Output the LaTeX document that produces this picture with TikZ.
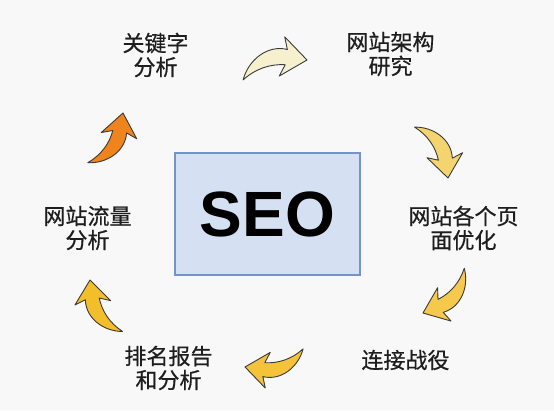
\documentclass[tikz,border=0pt]{standalone}
\usepackage{fontspec}
\setmainfont{Liberation Sans}
\newfontfamily\cjk[FakeBold=0.6]{Noto Sans CJK SC}
\usetikzlibrary{positioning}
\definecolor{pagebg}{HTML}{F8F8F8}
\definecolor{boxfill}{HTML}{D5E0F2}
\definecolor{boxline}{HTML}{7393C9}
\definecolor{textgray}{HTML}{1E1E1E}
\definecolor{arrowline}{HTML}{3A3A3A}
\definecolor{orangeA}{HTML}{F0841C}
\definecolor{creamA}{HTML}{F6F0CF}
\definecolor{yellowA}{HTML}{F3D46E}
\definecolor{yellowB}{HTML}{F5C94C}
\definecolor{yellowC}{HTML}{F4C338}
\definecolor{yellowD}{HTML}{F2BE2A}
\tikzset{
  seobox/.style={draw=boxline, line width=1.2pt, fill=boxfill,
    minimum width=185pt, minimum height=122pt,
    font=\bfseries\fontsize{64}{64}\selectfont},
  stepnode/.style={on grid, align=center, inner sep=0pt, text=textgray,
    font=\cjk\fontsize{22}{24}\selectfont},
  bendarrow/.pic={
    \draw[arrowline, line width=0.9pt, line join=round, fill=#1]
      (0,0) -- (-23,18) -- (-19,7)
      .. controls (-38,9) and (-53,-8) .. (-55,-26)
      .. controls (-45,-14) and (-32,-8) .. (-19,-7)
      -- (-23,-18) -- cycle;
  },
}

\begin{document}
\begin{tikzpicture}[x=1pt, y=1pt]
  \fill[pagebg] (0,0) rectangle (554,410);
  \useasboundingbox (0,0) rectangle (554,410);

  % Centre box
  \node[seobox] (seo) at (267.5,196) {SEO};

  % Steps
  \node[stepnode, above left=159pt and 112pt of seo] (kw) {关键字\\分析};
  \node[stepnode, above right=160pt and 123pt of seo] (arch) {网站架构\\研究};
  \node[stepnode, below right=14pt and 196pt of seo] (page) {网站各个页\\面优化};
  \node[stepnode, below right=146pt and 138pt of seo] (link) {连接战役};
  \node[stepnode, below left=154pt and 99pt of seo] (rank) {排名报告\\和分析};
  \node[stepnode, below left=14pt and 180pt of seo] (flow) {网站流量\\分析};

  % Arrows
  \pic[rotate=-8, scale=1.1] at (307,350) {bendarrow=creamA};
  \pic[rotate=-82] at (448,232) {bendarrow=yellowA};
  \pic[rotate=-158] at (423,97) {bendarrow=yellowB};
  \pic[rotate=172] at (245,43) {bendarrow=yellowC};
  \pic[rotate=97] at (90,130) {bendarrow=yellowD};
  \pic[rotate=-100, xscale=-1] at (123,297) {bendarrow=orangeA};
\end{tikzpicture}
\end{document}
